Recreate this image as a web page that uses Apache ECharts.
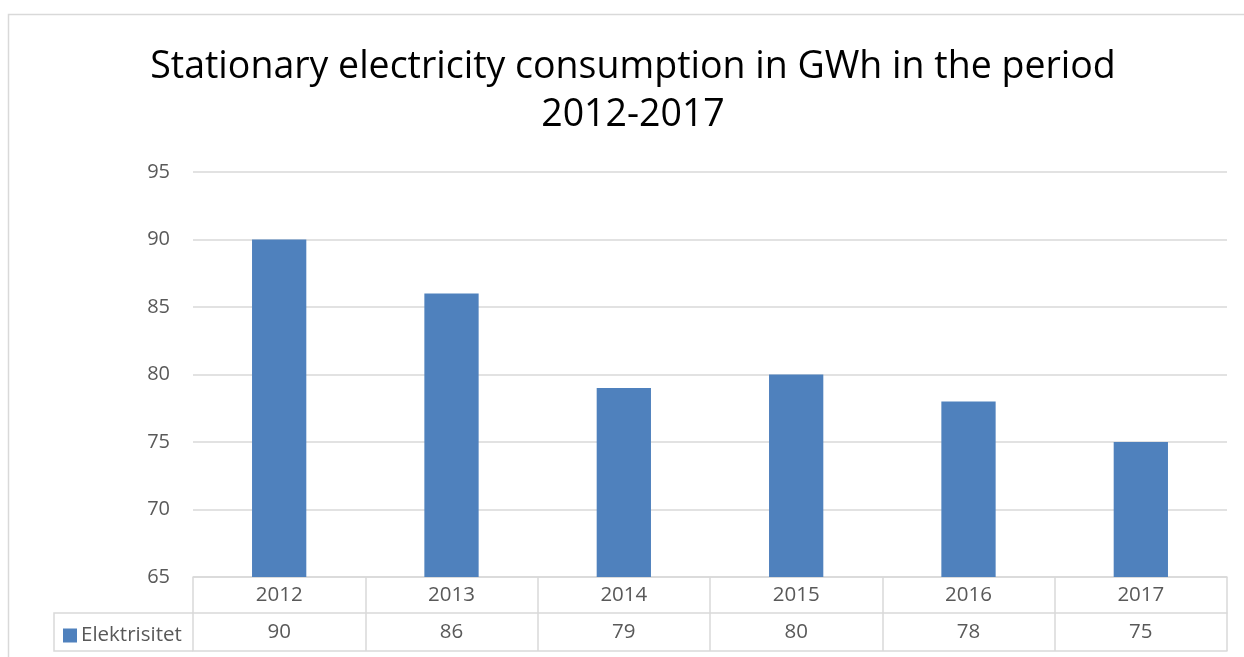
<!DOCTYPE html>
<html>
<head>
<meta charset="utf-8">
<script src="https://cdn.jsdelivr.net/npm/echarts@6/dist/echarts.min.js"></script>
<style>
  html, body { margin: 0; padding: 0; background: #fff; }
  #chart { width: 1244px; height: 657px; }
</style>
</head>
<body>
<div id="chart"></div>
<script>
// Stationary electricity use per year (GWh)
const years = ['2012', '2013', '2014', '2015', '2016', '2017'];
const elektrisitet = [90, 86, 79, 80, 78, 75];
const seriesName = 'Elektrisitet';
const yTicks = { min: 65, max: 95, step: 5 };

const FONT = '"Open Sans", "Noto Sans", sans-serif';
const LINE = '#d9d9d9';
const TEXT = '#595959';
const BAR = '#4f81bd';

const chart = echarts.init(document.getElementById('chart'));

chart.setOption({
  animation: false,
  backgroundColor: '#fff',
  title: {
    text: 'Stationary electricity consumption in GWh in the period\n2012-2017',
    left: 628,
    top: 38,
    textAlign: 'center',
    textStyle: {
      fontFamily: FONT,
      fontSize: 37.5,
      fontWeight: 'normal',
      color: '#000',
      lineHeight: 48
    }
  },
  legend: {
    data: [seriesName],
    left: 58,
    top: 620,
    icon: 'rect',
    itemWidth: 14,
    itemHeight: 14,
    itemGap: 6,
    textStyle: { fontFamily: FONT, fontSize: 20.5, color: TEXT, padding: [0, 0, 0, -1] },
    selectedMode: false
  },
  grid: { left: 193, right: 17, top: 172, bottom: 80 },
  xAxis: [
    {
      // year row of the data table; ticks form the column dividers
      type: 'category',
      data: years,
      position: 'bottom',
      axisLine: { lineStyle: { color: LINE, width: 1.5 } },
      axisTick: { show: true, length: 74, lineStyle: { color: LINE, width: 1.5 } },
      axisLabel: { fontFamily: FONT, fontSize: 20.5, color: TEXT, margin: 6, verticalAlign: 'top', lineHeight: 24 }
    },
    {
      // value row of the data table
      type: 'category',
      data: years,
      position: 'bottom',
      offset: 36,
      axisLine: { lineStyle: { color: LINE, width: 1.5 } },
      axisTick: { show: false },
      axisLabel: {
        fontFamily: FONT, fontSize: 20.5, color: TEXT, margin: 7, verticalAlign: 'top', lineHeight: 24,
        formatter: (v, i) => String(elektrisitet[i])
      }
    },
    {
      // closing line under the data table
      type: 'category',
      data: years,
      position: 'bottom',
      offset: 74,
      axisLine: { lineStyle: { color: LINE, width: 1.5 } },
      axisTick: { show: false },
      axisLabel: { show: false }
    }
  ],
  yAxis: {
    type: 'value',
    min: yTicks.min,
    max: yTicks.max,
    interval: yTicks.step,
    axisLine: { show: false },
    axisTick: { show: false },
    axisLabel: { fontFamily: FONT, fontSize: 20, color: TEXT, margin: 23 },
    splitLine: { lineStyle: { color: LINE, width: 1.5 } }
  },
  series: [
    {
      name: seriesName,
      type: 'bar',
      xAxisIndex: 0,
      data: elektrisitet,
      barWidth: '31.5%',
      itemStyle: { color: BAR }
    }
  ],
  graphic: [
    {
      // chart area frame
      type: 'rect',
      shape: { x: 8.5, y: 14.5, width: 1300, height: 700 },
      style: { fill: null, stroke: LINE, lineWidth: 1.5 },
      silent: true
    },
    {
      // legend cell of the data table
      type: 'polyline',
      shape: { points: [[193, 613], [54, 613], [54, 651], [193, 651]] },
      style: { fill: null, stroke: LINE, lineWidth: 1.5 },
      silent: true
    }
  ]
});
</script>
</body>
</html>
